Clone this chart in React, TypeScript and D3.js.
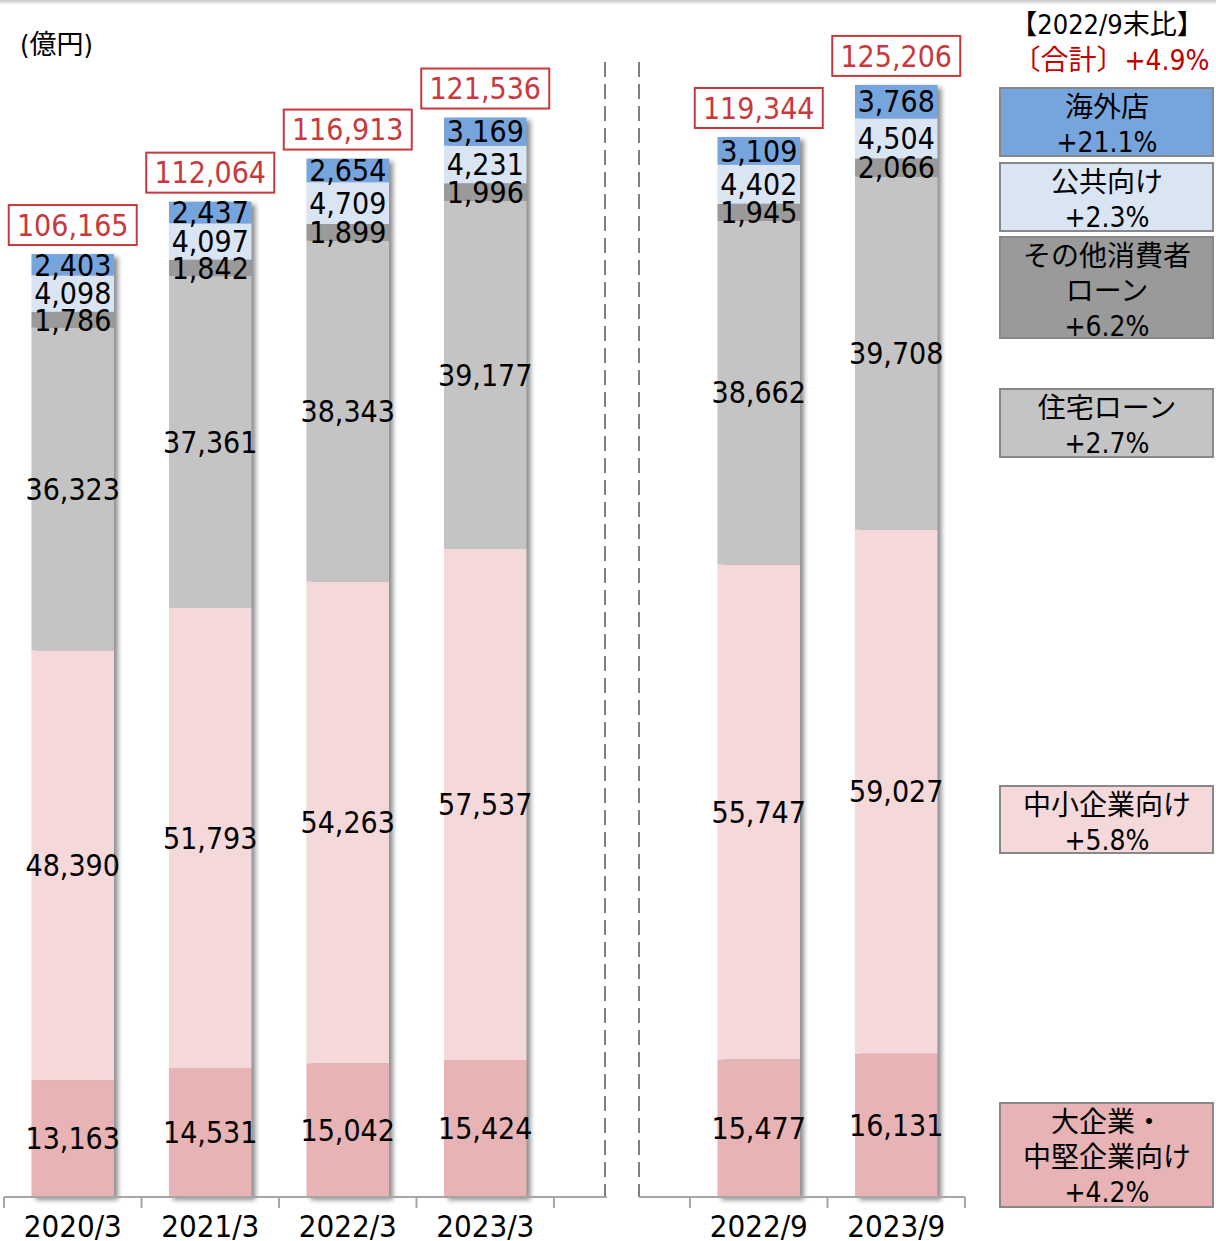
import React from "react";
import * as d3 from "d3";

const categoriesLeft = ["2020/3", "2021/3", "2022/3", "2023/3"];
const categoriesRight = ["2022/9", "2023/9"];
const seriesKeys = ["large", "sme", "housing", "consumer", "public", "overseas"];
const seriesNames = ["大企業・中堅企業向け", "中小企業向け", "住宅ローン", "その他消費者ローン", "公共向け", "海外店"];
const seriesColors = ["#E8B3B4", "#F5D9DA", "#C4C4C4", "#9A9A9A", "#DAE5F4", "#76A5DD"];
// values in order: 2020/3, 2021/3, 2022/3, 2023/3, 2022/9, 2023/9
const largeCorp = [13163, 14531, 15042, 15424, 15477, 16131];
const sme = [48390, 51793, 54263, 57537, 55747, 59027];
const housing = [36323, 37361, 38343, 39177, 38662, 39708];
const consumer = [1786, 1842, 1899, 1996, 1945, 2066];
const publicSector = [4098, 4097, 4709, 4231, 4402, 4504];
const overseas = [2403, 2437, 2654, 3169, 3109, 3768];
const totals = [106165, 112064, 116913, 121536, 119344, 125206];
const changeLabels = ["+4.2%", "+5.8%", "+2.7%", "+6.2%", "+2.3%", "+21.1%"];
const legendLines = [
  ["大企業・", "中堅企業向け"],
  ["中小企業向け"],
  ["住宅ローン"],
  ["その他消費者", "ローン"],
  ["公共向け"],
  ["海外店"],
];
const unitLabel = "(億円)";
const headerLabel = "【2022/9末比】";
const totalChangeLabel = "〔合計〕+4.9%";

// layout
const W = 1216;
const H = 1241;
const baseY = 1197;
const legendBoxes = [
  { top: 1103, bottom: 1207 },
  { top: 786, bottom: 853 },
  { top: 389, bottom: 457 },
  { top: 237, bottom: 338 },
  { top: 163, bottom: 231 },
  { top: 88, bottom: 156 },
];

const numFont = "'DejaVu Sans Condensed', 'DejaVu Sans', sans-serif";
const jpFont = "'DejaVu Sans Condensed', 'Noto Sans CJK JP', sans-serif";

const seriesValues = [largeCorp, sme, housing, consumer, publicSector, overseas];
const allCats = [...categoriesLeft, ...categoriesRight];
const rows = allCats.map((c, i) => {
  const r: any = { cat: c };
  seriesKeys.forEach((k, j) => (r[k] = seriesValues[j][i]));
  return r;
});
const stacked = d3.stack().keys(seriesKeys)(rows as any);

const fmt = d3.format(",");

export default function App() {
  const y = d3.scaleLinear().domain([0, 130000]).range([baseY, baseY - 130000 * 0.008882]);
  const xLeft = d3.scaleBand<string>().domain(categoriesLeft).range([4, 554]).paddingInner(0.4).paddingOuter(0.2);
  const xRight = d3.scaleBand<string>().domain(categoriesRight).range([690, 965]).paddingInner(0.4).paddingOuter(0.2);
  const xOf = (c: string) => (categoriesLeft.includes(c) ? xLeft : xRight);

  const ticksFor = (sc: d3.ScaleBand<string>) => {
    const st = sc.step();
    const [r0] = sc.range();
    return d3.range(sc.domain().length + 1).map((i) => r0 + i * st);
  };

  return (
    <svg width={W} height={H} style={{ position: "absolute", left: 0, top: 0, background: "#fff" }}>
      <defs>
        <filter id="shadow" x="-20%" y="-5%" width="150%" height="115%">
          <feGaussianBlur in="SourceAlpha" stdDeviation="2.5" />
          <feOffset dx="4" dy="3" result="ob" />
          <feComponentTransfer>
            <feFuncA type="linear" slope="0.45" />
          </feComponentTransfer>
        </filter>
        <linearGradient id="topgrad" x1="0" y1="0" x2="0" y2="1">
          <stop offset="0" stopColor="#c8c8c8" />
          <stop offset="1" stopColor="#ffffff" />
        </linearGradient>
      </defs>
      <rect x={0} y={0} width={W} height={5} fill="url(#topgrad)" />

      <text x={20} y={45} dy="0.35em" fontFamily={jpFont} fontSize={27} fill="#000">
        {unitLabel}
      </text>

      {/* dashed separators */}
      <line x1={605} x2={605} y1={62} y2={baseY} stroke="#7f7f7f" strokeWidth={2} strokeDasharray="15 7" />
      <line x1={639} x2={639} y1={62} y2={baseY} stroke="#7f7f7f" strokeWidth={2} strokeDasharray="15 7" />

      {/* bar shadows */}
      {allCats.map((c, i) => {
        const sc = xOf(c);
        return (
          <rect
            key={"sh" + c}
            x={sc(c)}
            y={y(totals[i])}
            width={sc.bandwidth()}
            height={baseY - y(totals[i])}
            fill="#000"
            filter="url(#shadow)"
          />
        );
      })}

      {/* bars */}
      {stacked.map((s, j) => (
        <g key={s.key} fill={seriesColors[j]}>
          {s.map((d: any, i: number) => {
            const c = allCats[i];
            const sc = xOf(c);
            return <rect key={c} x={sc(c)} y={y(d[1])} width={sc.bandwidth()} height={y(d[0]) - y(d[1])} />;
          })}
        </g>
      ))}

      {/* segment labels */}
      {stacked.map((s, j) => (
        <g key={"l" + s.key}>
          {s.map((d: any, i: number) => {
            const c = allCats[i];
            const sc = xOf(c);
            return (
              <text
                key={c}
                x={(sc(c) as number) + sc.bandwidth() / 2}
                y={(y(d[0]) + y(d[1])) / 2}
                dy="0.36em"
                textAnchor="middle"
                fontFamily={numFont}
                fontSize={30}
                fill="#000"
              >
                {fmt(seriesValues[j][i])}
              </text>
            );
          })}
        </g>
      ))}

      {/* totals */}
      {allCats.map((c, i) => {
        const sc = xOf(c);
        const cx = (sc(c) as number) + sc.bandwidth() / 2;
        const bottom = y(totals[i]) - 9;
        return (
          <g key={"t" + c}>
            <rect x={cx - 64} y={bottom - 40} width={128} height={40} fill="#fff" stroke="#C8383C" strokeWidth={2} />
            <text x={cx} y={bottom - 20} dy="0.36em" textAnchor="middle" fontFamily={numFont} fontSize={30} fill="#C8383C">
              {fmt(totals[i])}
            </text>
          </g>
        );
      })}

      {/* axes */}
      <line x1={4} x2={607} y1={baseY} y2={baseY} stroke="#a6a6a6" strokeWidth={2} />
      <line x1={639} x2={965} y1={baseY} y2={baseY} stroke="#a6a6a6" strokeWidth={2} />
      {[...ticksFor(xLeft), ...ticksFor(xRight)].map((t, i) => (
        <line key={"tk" + i} x1={t} x2={t} y1={baseY} y2={baseY + 11} stroke="#a6a6a6" strokeWidth={2} />
      ))}
      {allCats.map((c) => {
        const sc = xOf(c);
        return (
          <text
            key={"x" + c}
            x={(sc(c) as number) + sc.bandwidth() / 2}
            y={1226}
            dy="0.36em"
            textAnchor="middle"
            fontFamily={numFont}
            fontSize={31}
            fill="#000"
          >
            {c}
          </text>
        );
      })}

      {/* legend header */}
      <text x={1107} y={24} dy="0.36em" textAnchor="middle" fontFamily={jpFont} fontSize={27} fill="#000">
        {headerLabel}
      </text>
      <text x={1111} y={60} dy="0.36em" textAnchor="middle" fontFamily={jpFont} fontSize={28} fill="#C00000">
        {totalChangeLabel}
      </text>

      {/* legend boxes */}
      {seriesNames.map((n, j) => {
        const b = legendBoxes[j];
        const lines = [...legendLines[j], changeLabels[j]];
        return (
          <g key={"lg" + j}>
            <rect x={1000} y={b.top} width={213} height={b.bottom - b.top} fill={seriesColors[j]} stroke="#888" strokeWidth={2} />
            {lines.map((ln, k) => (
              <text
                key={k}
                x={1107}
                y={b.top + 19 + k * 35}
                dy="0.36em"
                textAnchor="middle"
                fontFamily={jpFont}
                fontSize={28}
                fill="#000"
              >
                {ln}
              </text>
            ))}
          </g>
        );
      })}
    </svg>
  );
}
